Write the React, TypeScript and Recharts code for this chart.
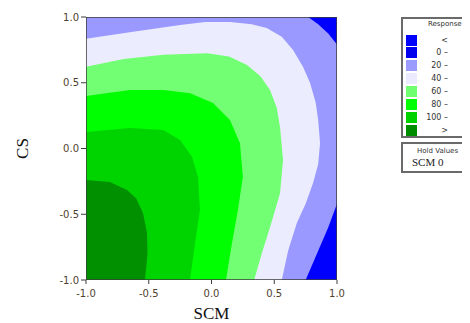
import { ScatterChart, Scatter, XAxis, YAxis } from 'recharts';

interface Pt {
  x: number;
  y: number;
}

const xTicks = [-1, -0.5, 0, 0.5, 1];
const yTicks = [-1, -0.5, 0, 0.5, 1];

const legendFrom = ['<', '0 –', '20 –', '40 –', '60 –', '80 –', '100 –', '>'];
const legendTo = ['0', '20', '40', '60', '80', '100', '120', '120'];
const legendColors = ['#0000FF', '#0000EE', '#9B9BFF', '#EBEBFF', '#70FF70', '#00FF00', '#00D200', '#008E00'];

// contour bands, outlines in SCM / CS units, painted back to front
const band0to20: Pt[] = [
  { x: -1, y: -1 }, { x: -1, y: 1 }, { x: 1, y: 1 }, { x: 1, y: -1 },
];
const band20to40: Pt[] = [
  { x: -1, y: -1 }, { x: 0.75, y: -1 }, { x: 0.84, y: -0.8 }, { x: 0.93, y: -0.6 },
  { x: 1, y: -0.42 }, { x: 1, y: 0.79 }, { x: 0.93, y: 0.875 }, { x: 0.85, y: 0.945 },
  { x: 0.77, y: 1 }, { x: -1, y: 1 },
];
const band40to60: Pt[] = [
  { x: -1, y: -1 }, { x: -1, y: 0.835 }, { x: -0.625, y: 0.888 }, { x: -0.25, y: 0.94 },
  { x: -0.05, y: 0.962 }, { x: 0.15, y: 0.962 }, { x: 0.32, y: 0.945 }, { x: 0.44, y: 0.916 },
  { x: 0.56, y: 0.85 }, { x: 0.65, y: 0.75 }, { x: 0.73, y: 0.62 }, { x: 0.785, y: 0.5 },
  { x: 0.83, y: 0.35 }, { x: 0.85, y: 0.217 }, { x: 0.865, y: 0.04 }, { x: 0.85, y: -0.12 },
  { x: 0.81, y: -0.26 }, { x: 0.75, y: -0.42 }, { x: 0.68, y: -0.567 }, { x: 0.61, y: -0.78 },
  { x: 0.56, y: -1 },
];
const band60to80: Pt[] = [
  { x: -1, y: -1 }, { x: -1, y: 0.622 }, { x: -0.7, y: 0.68 }, { x: -0.383, y: 0.713 },
  { x: -0.036, y: 0.724 }, { x: 0.14, y: 0.7 }, { x: 0.283, y: 0.635 }, { x: 0.39, y: 0.55 },
  { x: 0.466, y: 0.445 }, { x: 0.52, y: 0.31 }, { x: 0.546, y: 0.164 }, { x: 0.57, y: -0.087 },
  { x: 0.546, y: -0.34 }, { x: 0.466, y: -0.6 }, { x: 0.4, y: -0.8 }, { x: 0.34, y: -1 },
];
const band80to100: Pt[] = [
  { x: -1, y: -1 }, { x: -1, y: 0.4 }, { x: -0.65, y: 0.445 }, { x: -0.383, y: 0.445 },
  { x: -0.17, y: 0.42 }, { x: 0.012, y: 0.346 }, { x: 0.147, y: 0.217 }, { x: 0.227, y: 0.04 },
  { x: 0.25, y: -0.217 }, { x: 0.21, y: -0.47 }, { x: 0.163, y: -0.72 }, { x: 0.115, y: -1 },
];
const band100to120: Pt[] = [
  { x: -1, y: -1 }, { x: -1, y: 0.125 }, { x: -0.65, y: 0.156 }, { x: -0.383, y: 0.14 },
  { x: -0.25, y: 0.065 }, { x: -0.155, y: -0.065 }, { x: -0.107, y: -0.217 }, { x: -0.092, y: -0.468 },
  { x: -0.131, y: -0.72 }, { x: -0.171, y: -1 },
];
const band120up: Pt[] = [
  { x: -1, y: -1 }, { x: -1, y: -0.24 }, { x: -0.81, y: -0.255 }, { x: -0.673, y: -0.316 },
  { x: -0.6, y: -0.38 }, { x: -0.546, y: -0.49 }, { x: -0.514, y: -0.64 }, { x: -0.51, y: -0.8 },
  { x: -0.53, y: -1 },
];
const frame: Pt[] = [
  { x: -1, y: -1 }, { x: -1, y: 1 }, { x: 1, y: 1 }, { x: 1, y: -1 }, { x: -1, y: -1 },
];

const bands = [
  { data: band0to20, color: '#0000FF' },
  { data: band20to40, color: '#9999FF' },
  { data: band40to60, color: '#ECECFF' },
  { data: band60to80, color: '#73FF73' },
  { data: band80to100, color: '#00FF00' },
  { data: band100to120, color: '#00D400' },
  { data: band120up, color: '#009000' },
];

const tickStyle = { fill: '#4f3f2e', fontSize: 10, fontFamily: 'DejaVu Sans' };
const fmt = (v: number) => v.toFixed(1);
const noDot = () => <g />;

const small = { fontFamily: 'DejaVu Sans', fontSize: 8, color: '#333', lineHeight: '11px', whiteSpace: 'nowrap' as const };

function Legend() {
  return (
    <>
      <div
        style={{
          position: 'absolute', left: 393, top: 9, width: 100, height: 121,
          border: '2px solid #6a6a6a', boxSizing: 'border-box', background: '#fff',
        }}
      >
        <div style={{ ...small, position: 'absolute', left: 25, top: 0, fontSize: 7 }}>
          Response
        </div>
        {legendFrom.map((lbl, i) => (
          <div key={i} style={{ position: 'absolute', left: 0, top: 15.5 + i * 12.9, width: 100, height: 11 }}>
            <div style={{ position: 'absolute', left: 3, top: 0, width: 11, height: 11, background: legendColors[i] }} />
            <div style={{ ...small, position: 'absolute', left: 0, top: 0, width: 45, textAlign: 'right' }}>{lbl}</div>
            <div style={{ ...small, position: 'absolute', left: 61, top: 0 }}>{legendTo[i]}</div>
          </div>
        ))}
      </div>
      <div
        style={{
          position: 'absolute', left: 393, top: 134, width: 100, height: 31,
          border: '2px solid #6a6a6a', boxSizing: 'border-box', background: '#fff',
        }}
      >
        <div style={{ ...small, position: 'absolute', left: 14, top: 2, fontSize: 7 }}>Hold Values</div>
        <div style={{ position: 'absolute', left: 9, top: 12, fontFamily: 'Liberation Serif', fontSize: 11, color: '#222' }}>
          SCM 0
        </div>
      </div>
    </>
  );
}

export default function App() {
  return (
    <div style={{ position: 'relative', width: 462, height: 315, overflow: 'hidden' }}>
      <ScatterChart width={340} height={315} margin={{ top: 9, right: 11, left: 0, bottom: 0 }}>
        <XAxis
          type="number"
          dataKey="x"
          domain={[-1, 1]}
          ticks={xTicks}
          allowDataOverflow
          height={43}
          axisLine={false}
          tickLine={{ stroke: '#3c3c3c' }}
          tickSize={4}
          tickMargin={6}
          tick={tickStyle}
          tickFormatter={fmt}
          label={{ value: 'SCM', position: 'insideBottom', offset: 4, style: { fontFamily: 'Liberation Serif', fontSize: 17, fill: '#111' } }}
        />
        <YAxis
          type="number"
          dataKey="y"
          domain={[-1, 1]}
          ticks={yTicks}
          allowDataOverflow
          width={78}
          axisLine={false}
          tickLine={{ stroke: '#3c3c3c' }}
          tickSize={5}
          tickMargin={2}
          tick={tickStyle}
          tickFormatter={fmt}
          label={{
            value: 'CS', angle: -90, position: 'insideLeft', offset: 14,
            style: { textAnchor: 'middle', fontFamily: 'Liberation Serif', fontSize: 17, fill: '#111' },
          }}
        />
        {bands.map((b, i) => (
          <Scatter
            key={i}
            data={b.data}
            fill={b.color}
            shape={noDot}
            line={{ fill: b.color, stroke: 'none' }}
            isAnimationActive={false}
          />
        ))}
        <Scatter
          data={frame}
          shape={noDot}
          line={{ fill: 'none', stroke: '#3c3c3c', strokeWidth: 1.5 }}
          isAnimationActive={false}
        />
      </ScatterChart>
      <Legend />
    </div>
  );
}
